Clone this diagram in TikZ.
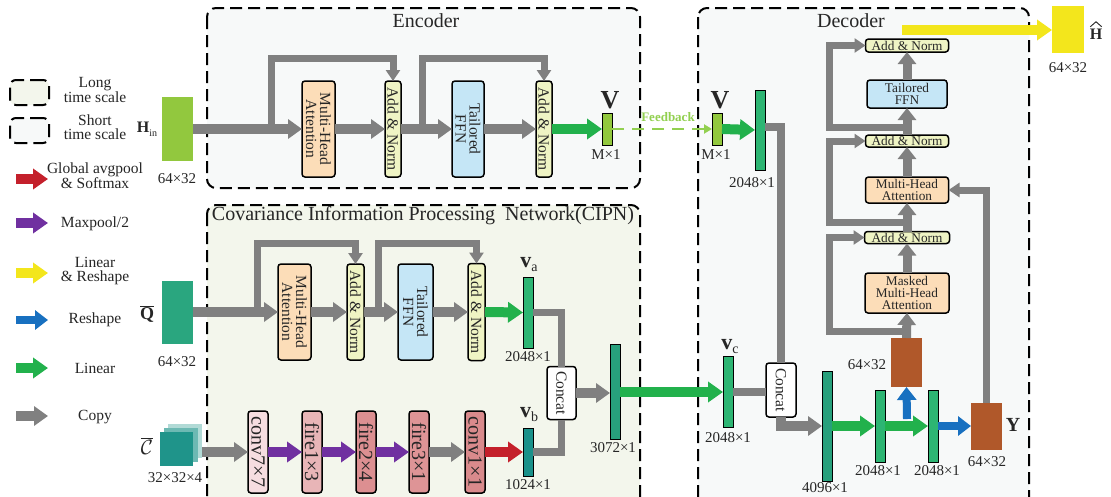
\documentclass[tikz,border=0pt]{standalone}
\usepackage{fontspec}
\setmainfont{Liberation Serif}
\usetikzlibrary{arrows.meta,calc}

\definecolor{flowgray}{HTML}{808080}
\definecolor{lingreen}{HTML}{22B14C}
\definecolor{poolpurple}{HTML}{7030A0}
\definecolor{softred}{HTML}{C4202B}
\definecolor{shapeblue}{HTML}{1870C0}
\definecolor{outyellow}{HTML}{F3E61C}
\definecolor{limeblk}{HTML}{92C83E}
\definecolor{qteal}{HTML}{2AA67F}
\definecolor{vgreen}{HTML}{2DB573}
\definecolor{vteal}{HTML}{27A07C}
\definecolor{vbteal}{HTML}{1A918A}
\definecolor{cubeteal}{HTML}{1F948A}
\definecolor{brownblk}{HTML}{B0582A}
\definecolor{peach}{HTML}{FCDDB8}
\definecolor{anyellow}{HTML}{EFF4C4}
\definecolor{ffnblue}{HTML}{C5E6F6}
\definecolor{cipnbg}{HTML}{F3F6EC}
\definecolor{codecbg}{HTML}{F7F9F9}
\definecolor{fbgreen}{HTML}{92D050}
\definecolor{txt}{HTML}{262626}
\definecolor{pinkA}{HTML}{F6DDE0}
\definecolor{pinkB}{HTML}{E8B5B7}
\definecolor{pinkC}{HTML}{DC8F91}
\definecolor{pinkD}{HTML}{DE9496}
\definecolor{pinkE}{HTML}{D98A8C}

% bold vector name with a plain subscript
\newcommand{\vecname}[1]{{\fontsize{22}{22}\selectfont\bfseries v}\raisebox{-4pt}{\fontsize{14}{14}\selectfont #1}}

\tikzset{
  region/.style={draw=black, line width=2pt, dash pattern=on 12pt off 6pt, rounded corners=9pt},
  legbox/.style={draw=black, line width=2pt, dash pattern=on 13pt off 6pt, rounded corners=6pt,
    minimum width=39pt, minimum height=25pt},
  blk/.style={draw=black, line width=1.5pt, rounded corners=3pt},
  vecblk/.style={draw=black, line width=0.9pt, minimum width=10pt},
  lbl/.style={font=\fontsize{15}{15}\selectfont},
  leg/.style={font=\fontsize{15.5}{14}\selectfont, align=center},
  title/.style={font=\fontsize{20}{20}\selectfont},
  dectxt/.style={font=\fontsize{13.3}{12}\selectfont, align=center},
  vtxt/.style={rotate=-90, align=center, font=\fontsize{15.5}{14}\selectfont},
  vbig/.style={rotate=-90, font=\fontsize{20}{20}\selectfont},
  hatline/.style={draw=txt, line width=0.9pt, line join=miter},
  garrow/.style={draw=flowgray, line width=10pt, -{Triangle[length=14pt,width=19pt]}},
  gup/.style={draw=flowgray, line width=9pt, -{Triangle[length=12pt,width=18pt]}},
  gskip/.style={draw=flowgray, line width=7pt, -{Triangle[length=11pt,width=14pt]}},
  gline/.style={draw=flowgray, line width=7.5pt},
  linarrow/.style={draw=lingreen, line width=10pt, -{Triangle[length=15pt,width=20pt]}},
  poolarrow/.style={draw=poolpurple, line width=10pt, -{Triangle[length=15pt,width=20pt]}},
  softarrow/.style={draw=softred, line width=10pt, -{Triangle[length=15pt,width=20pt]}},
  shapearrow/.style={draw=shapeblue, line width=8pt, -{Triangle[length=13pt,width=19pt]}},
  yelarrow/.style={draw=outyellow, line width=10pt, -{Triangle[length=15pt,width=20pt]}},
  fbarrow/.style={draw=fbgreen, line width=2pt, dash pattern=on 12pt off 8pt, -{Triangle[length=8pt,width=9pt]}},
  every node/.style={text=txt, inner sep=0pt, outer sep=0pt}
}

\begin{document}
\begin{tikzpicture}[x=1pt,y=-1pt]
\useasboundingbox (0,0) rectangle (1111,496);
\fill[white] (0,0) rectangle (1111,496);

% ---------- regions ----------
\begin{scope}
  \clip (0,0) rectangle (1111,496);
  \draw[region, fill=codecbg] (207,8) rectangle (640,188);
  \draw[region, fill=cipnbg] (207,205) rectangle (640,530);
  \draw[region, fill=codecbg] (698,8) rectangle (1029,530);
\end{scope}
\node[title] (encTitle) at (426,21) {Encoder};
\node[title] (cipnTitle) at (423,216) {Covariance Information Processing\ \ Network(CIPN)};
\node[title] (decTitle) at (851,21) {Decoder};

% ---------- legend ----------
\node[legbox, fill=cipnbg] (legLong) at (29.5,92.5) {};
\node[legbox, fill=codecbg] (legShort) at (29.5,130.5) {};
\node[leg] (legLongT) at (95,90) {Long\\time scale};
\node[leg] (legShortT) at (95,127) {Short\\time scale};
\node[leg] (legRedT) at (95,175.5) {Global avgpool\\\& Softmax};
\node[leg] (legPurT) at (95,224) {Maxpool/2};
\node[leg] (legYelT) at (95,271) {Linear\\\& Reshape};
\node[leg] (legBluT) at (95,320) {Reshape};
\node[leg] (legGrnT) at (95,368) {Linear};
\node[leg] (legGryT) at (95,417) {Copy};
\coordinate (lr0) at (16,179);  \coordinate (lr1) at (48,179);
\coordinate (lp0) at (16,223);  \coordinate (lp1) at (48,223);
\coordinate (ly0) at (16,273);  \coordinate (ly1) at (48,273);
\coordinate (lb0) at (16,320);  \coordinate (lb1) at (48,320);
\coordinate (lg0) at (16,368);  \coordinate (lg1) at (48,368);
\coordinate (lc0) at (16,416);  \coordinate (lc1) at (48,416);
\draw[softarrow] (lr0) -- (lr1);
\draw[poolarrow] (lp0) -- (lp1);
\draw[yelarrow] (ly0) -- (ly1);
\draw[shapearrow] (lb0) -- (lb1);
\draw[linarrow] (lg0) -- (lg1);
\draw[garrow] (lc0) -- (lc1);

% ---------- inputs ----------
\node[fill=limeblk, minimum width=31pt, minimum height=64pt] (Hin) at (177.5,129) {};
\node (HinL) at (147,129) {{\fontsize{16}{16}\selectfont\bfseries H}\raisebox{-4pt}{\fontsize{10}{10}\selectfont in}};
\node[lbl] (HinS) at (177,179) {64×32};

\node[fill=qteal, minimum width=31pt, minimum height=63pt] (Qbar) at (177.5,312) {};
\node[font=\fontsize{18}{18}\selectfont] (QbarL) at (147,314) {$\overline{\hbox{\bfseries Q}}$};
\node[lbl] (QbarS) at (177,362) {64×32};

\fill[cubeteal!35] (168,424) rectangle (202,458);
\fill[cubeteal!65] (164,428) rectangle (198,462);
\node[fill=cubeteal, minimum width=33pt, minimum height=34pt] (Cbar) at (176.5,449) {};
\node[font=\fontsize{20}{20}\selectfont] (CbarL) at (147,446) {$\overline{\mathcal{C}}$};
\node[lbl] (CbarS) at (175,478) {32×32×4};

% ---------- encoder ----------
\node[blk, fill=peach, minimum width=33pt, minimum height=96pt] (emha) at (318.5,129) {};
\node[vtxt] (emhaT) at (emha.center) {Multi-Head\\Attention};
\node[blk, fill=anyellow, minimum width=16pt, minimum height=96pt] (ean1) at (393,129) {};
\node[vtxt] (ean1T) at (ean1.center) {Add \& Norm};
\node[blk, fill=ffnblue, minimum width=32pt, minimum height=96pt] (effn) at (468,129) {};
\node[vtxt] (effnT) at (effn.center) {Tailored\\FFN};
\node[blk, fill=anyellow, minimum width=16pt, minimum height=96pt] (ean2) at (544,129) {};
\node[vtxt] (ean2T) at (ean2.center) {Add \& Norm};
\node[vecblk, fill=limeblk, minimum height=32pt] (Venc) at (607,129) {};
\node[font=\fontsize{26}{26}\selectfont\bfseries] (VencL) at (610,100) {V};
\node[lbl] (VencS) at (606,155) {M×1};

\coordinate (es1) at (271,129);
\coordinate (es2) at (422,129);
\draw[garrow] (Hin.east) -- (emha.west);
\draw[garrow] (emha.east) -- (ean1.west);
\draw[garrow] (ean1.east) -- (effn.west);
\draw[garrow] (effn.east) -- (ean2.west);
\draw[linarrow] (ean2.east) -- (Venc.west);
\draw[gskip] (es1) -- ++(0,-71) -| (ean1.north);
\draw[gskip] (es2) -- ++(0,-71) -| (ean2.north);

% ---------- CIPN ----------
\node[blk, fill=peach, minimum width=33pt, minimum height=96pt] (cmha) at (294.5,312) {};
\node[vtxt] (cmhaT) at (cmha.center) {Multi-Head\\Attention};
\node[blk, fill=anyellow, minimum width=17pt, minimum height=96pt] (can1) at (355.5,312) {};
\node[vtxt] (can1T) at (can1.center) {Add \& Norm};
\node[blk, fill=ffnblue, minimum width=35pt, minimum height=96pt] (cffn) at (415.5,312) {};
\node[vtxt] (cffnT) at (cffn.center) {Tailored\\FFN};
\node[blk, fill=anyellow, minimum width=17pt, minimum height=97pt] (can2) at (476.5,312) {};
\node[vtxt] (can2T) at (can2.center) {Add \& Norm};
\node[vecblk, fill=vgreen, minimum height=71pt] (va) at (528,312.5) {};
\node (vaL) at (529,265) {\vecname{a}};
\node[lbl] (vaS) at (528,357) {2048×1};

\node[blk, fill=pinkA, minimum width=20pt, minimum height=82pt] (conv7) at (258,452) {};
\node[vbig] (conv7T) at (conv7.center) {conv7×7};
\node[blk, fill=pinkB, minimum width=20pt, minimum height=82pt] (fire1) at (312,452) {};
\node[vbig] (fire1T) at (fire1.center) {fire1×3};
\node[blk, fill=pinkC, minimum width=20pt, minimum height=82pt] (fire2) at (366,452) {};
\node[vbig] (fire2T) at (fire2.center) {fire2×4};
\node[blk, fill=pinkD, minimum width=20pt, minimum height=82pt] (fire3) at (419,452) {};
\node[vbig] (fire3T) at (fire3.center) {fire3×1};
\node[blk, fill=pinkE, minimum width=20pt, minimum height=82pt] (conv1) at (475,452) {};
\node[vbig] (conv1T) at (conv1.center) {conv1×1};
\node[vecblk, fill=vbteal, minimum height=48pt] (vb) at (528,452) {};
\node (vbL) at (529,415) {\vecname{b}};
\node[lbl] (vbS) at (528,485) {1024×1};

\node[blk, fill=white, minimum width=29pt, minimum height=53pt] (ccat) at (561.5,393) {};
\node[vtxt] (ccatT) at (ccat.center) {Concat};
\node[vecblk, fill=vteal, minimum height=95pt] (c3072) at (615,392) {};
\node[lbl] (c3072S) at (613,448) {3072×1};

\coordinate (cs1) at (257,312);
\coordinate (cs2) at (378,312);
\draw[garrow] (Qbar.east) -- (cmha.west);
\draw[garrow] (cmha.east) -- (can1.west);
\draw[garrow] (can1.east) -- (cffn.west);
\draw[garrow] (cffn.east) -- (can2.west);
\draw[linarrow] (can2.east) -- (va.west);
\draw[gskip] (cs1) -- ++(0,-69) -| (can1.north);
\draw[gskip] (cs2) -- ++(0,-69) -| (can2.north);

\draw[garrow] ($(Cbar.east |- conv7.west)+(9,0)$) -- (conv7.west);
\draw[poolarrow] (conv7.east) -- (fire1.west);
\draw[poolarrow] (fire1.east) -- (fire2.west);
\draw[poolarrow] (fire2.east) -- (fire3.west);
\draw[garrow] (fire3.east) -- (conv1.west);
\draw[softarrow] (conv1.east) -- (vb.west);

\draw[gline] (va.east) -| (ccat.north);
\draw[gline] (vb.east) -| (ccat.south);
\draw[garrow] (ccat.east) -- (ccat.east -| c3072.west);

% ---------- decoder ----------
\node[vecblk, fill=limeblk, minimum height=32pt] (Vdec) at (717,129) {};
\node[font=\fontsize{26}{26}\selectfont\bfseries] (VdecL) at (720,100) {V};
\node[lbl] (VdecS) at (716,155) {M×1};
\node[vecblk, fill=vgreen, minimum height=80pt] (d2048) at (760,130) {};
\node[lbl] (d2048S) at (752,183) {2048×1};
\node[font=\fontsize{13}{13}\selectfont\bfseries, text=fbgreen] (fbL) at (668,117) {Feedback};
\draw[fbarrow] (Venc.east) -- (Vdec.west);
\draw[linarrow] (Vdec.east) -- (d2048.west);

\node[vecblk, fill=vgreen, minimum height=71pt] (vc) at (728,392) {};
\node (vcL) at (730,347) {\vecname{c}};
\node[lbl] (vcS) at (728,438) {2048×1};
\draw[linarrow] (c3072.east) -- (c3072.east -| vc.west);

\node[blk, fill=white, minimum width=30pt, minimum height=54pt] (dcat) at (781,390) {};
\node[vtxt] (dcatT) at (dcat.center) {Concat};
\node[vecblk, fill=vteal, minimum height=110pt] (d4096) at (827,426) {};
\node[lbl] (d4096S) at (825,488) {4096×1};
\node[vecblk, fill=vgreen, minimum height=72pt] (dA) at (880,426) {};
\node[lbl] (dAS) at (878,471) {2048×1};
\node[vecblk, fill=vgreen, minimum height=72pt] (dB) at (933,426) {};
\node[lbl] (dBS) at (937,471) {2048×1};
\node[fill=brownblk, minimum width=31pt, minimum height=49pt] (brownTop) at (906.5,362.5) {};
\node[lbl] (brownTopS) at (867,365) {64×32};
\node[fill=brownblk, minimum width=31pt, minimum height=47pt] (Y) at (986.5,426) {};
\node[font=\fontsize{20}{20}\selectfont\bfseries] (YL) at (1013,425) {Y};
\node[lbl] (YS) at (987,462) {64×32};

\node[blk, fill=peach, minimum width=84pt, minimum height=40pt, dectxt] (mmha) at (907,293) {Masked\\Multi-Head\\Attention};
\node[blk, fill=anyellow, minimum width=85pt, minimum height=12pt, dectxt] (dan1) at (907,237.5) {Add \& Norm};
\node[blk, fill=peach, minimum width=83pt, minimum height=26pt, dectxt] (dmha) at (907,190) {Multi-Head\\Attention};
\node[blk, fill=anyellow, minimum width=83pt, minimum height=12pt, dectxt] (dan2) at (907,141) {Add \& Norm};
\node[blk, fill=ffnblue, minimum width=80pt, minimum height=28pt, dectxt] (dffn) at (907,94) {Tailored\\FFN};
\node[blk, fill=anyellow, minimum width=83pt, minimum height=13pt, dectxt] (dan3) at (907,45.5) {Add \& Norm};

\node[fill=outyellow, minimum width=32pt, minimum height=47pt] (Hhat) at (1068,29.5) {};
\node[font=\fontsize{16}{16}\selectfont\bfseries] (HhatL) at (1096,34) {H};
\draw[hatline] ($(HhatL.north west)+(0.5,-2)$) -- ($(HhatL.north)+(0,-7)$) -- ($(HhatL.north east)+(-0.5,-2)$);
\node[lbl] (HhatS) at (1068,68) {64×32};

\draw[gline] ($(d2048.east)+(0,-3)$) -| (dcat.north);
\draw[gline] (vc.east) -- (vc.east -| dcat.west);
\draw[garrow] (dcat.south) |- (d4096.west);
\draw[linarrow] (d4096.east) -- (dA.west);
\draw[linarrow] (dA.east) -- (dB.west);
\coordinate (bs) at (907,419);
\draw[shapearrow] (bs) -- (brownTop.south);
\draw[shapearrow] (dB.east) -- (Y.west);

\coordinate (dk1) at (907,331);
\coordinate (dk2) at (907,222);
\coordinate (dk3) at (907,127);
\draw[gskip] (dk1) -- ++(-78,0) |- (dan1.west);
\draw[gskip] (dk2) -- ++(-78,0) |- (dan2.west);
\draw[gskip] (dk3) -- ++(-78,0) |- (dan3.west);
\draw[gup] (brownTop.north) -- (mmha.south);
\draw[gup] (mmha.north) -- (dan1.south);
\draw[gup] (dan1.north) -- (dmha.south);
\draw[gup] (dmha.north) -- (dan2.south);
\draw[gup] (dan2.north) -- (dffn.south);
\draw[gup] (dffn.north) -- (dan3.south);
\draw[gskip] (Y.north) |- (dmha.east);

\coordinate (ys) at (902,30);
\draw[yelarrow] (ys) -- (ys -| Hhat.west);
\end{tikzpicture}
\end{document}
